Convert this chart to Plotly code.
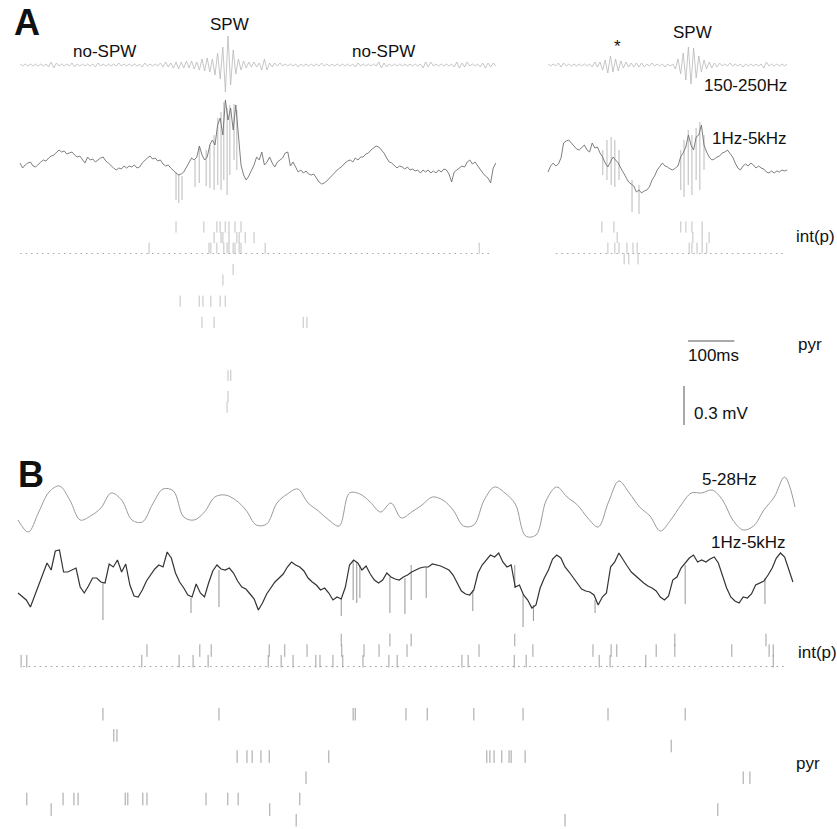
import plotly.graph_objects as go

W, H = 837, 829

# ------------------------------------------------------------------ data
# LFP values are in units of 1/130 mV (0.3 mV scale bar = 39 units)
LFP_UNIT_MV = 0.3 / 39.0

# Panel A: sampling interval of the traces (ms)
DT_A = 5.6

# A left, 150-250 Hz band
RIPPLE_L = [
    1, -1, 1, -1, 1, -1, 1, -1, 1, -1, 1,
    -2, 3, -3, 2,
    -1, 1, -1, 1, -1, 2, -2, 1, -1, 1,
    -1, 1, -1, 1, -2, 2, -1, 1, -1, 1,
    -1, 1, -1, 2, -1, 1, -1, 1, -1, 1,
    -1, 1, -2, 2, -1, 1, -1, 1, -1,
    2, -2, 3, -2, 2,
    -3, 3, -4, 3, -3,
    4, -3, 4, -4, 3,
    -5, 6, -6, 7, -7, 6,
    -10, 12, -14, 18, -27, 29, -20, 15, -9, 6, -5, 4,
    -3, 3, -2, 3, -2, 2,
    -5, 6, -5,
    2, -2, 2, -1, 2,
    -1, 1, -1, 1, -1, 1, -2, 1, -1, 1,
    -1, 1, -1, 1, -1, 2, -1, 1, -1, 1,
    -1, 1, -1, 1, -1, 1, -1, 1, -2, 2,
    -1, 1, -1, 1, -1, 1, -1,
    3, -3, 2, -2,
    1, -1, 1, -1, 1, -1, 1, -1, 1, -1, 1, -1, 1,
    -3, 3, -2, 3,
    -1, 1, -1, 1, -1, 1, -1, 1,
    -2, 3, -3, 2, -2, 3,
    -1, 1, -1, 1,
    -2, 2, -3, 2, -2, 2,
    -1,
]

# A left, 1 Hz-5 kHz
WIDEBAND_L = [
    2, -3, 0, 2, 3, -1, -2, 1, 3, 5,
    4, 7, 9, 10, 13, 15, 13, 14, 11, 12,
    13, 10, 8, 9, 5, 2, 8, 5, 6, 3,
    5, 7, 8, 4, 2, -1, -3, -5, -3, -4,
    -1, -3, -1, -2, 0, -3, -2, 2, 5, 7,
    9, 6, 7, 4, 5, 1, -1, 0, -3, -6,
    -8, -10, -9, -7, -2, 2, 7, 5, 8, 19,
    10, 5, 8, 20, 25, 20, 40, 47, 30, 65,
    45, 57, 35, 60, 25, 0, -10, -15, -11, -5,
    0, 8, 5, 13, 0, 3, 8, 2, -2, 3,
    5, 7, 12, 13, -1, 3, -2, -7, -5, -8,
    -6, -9, -10, -9, -13, -17, -19, -18, -16, -13,
    -11, -7, -5, -3, -1, 2, 4, 5, 3, 7,
    5, 8, 8, 11, 12, 15, 17, 19, 18, 15,
    12, 7, 3, 2, -1, -3, -1, -2, -4, -2,
    -5, -4, -6, -5, -8, -5, -7, -5, -8, -6,
    -8, -5, -7, -4, -5, -9, -17, -7, -5, -3,
    -1, -2, 3, 5, 1, 3, -1, -5, -8, -11,
    -13, -18, -3, 2,
]
# unit spikes riding on the A-left wideband trace: (time ms, top, bottom)
SPIKES_WB_L = [
    (336, -7, -35), (342, -9, -38), (349, -11, -35), (377, 5, -22),
    (386, 19, -18), (401, 15, -21), (409, 20, -23), (418, 30, -25),
    (426, 47, -20), (433, 53, -25), (439, 63, -15), (446, 57, -30),
    (452, 60, -10), (461, 61, 5), (467, 55, -5),
]

# A right, 150-250 Hz band
RIPPLE_R = [
    1, -1, 1, -1,
    2, -2, 2,
    -1, 1, -1, 1, -1, 1, -1, 1, -1, 1,
    -2, 3, -2, 3,
    -5, 5,
    -8, 9, -7,
    6, -6,
    4, -3, 3,
    -2, 2, -2, 2, -2, 2, -2,
    1, -1, 2, -1, 1, -1, 1, -2, 1, -1, 1,
    -4, 6,
    -9, 12,
    -15, 18, -19,
    17, -13,
    9, -7,
    5, -4,
    3, -3, 2, -2, 2,
    -1, 1, -1, 2, -1, 1, -1, 1, -2, 1, -1, 1, -1, 1, -1, 1,
    -3, 3,
    -1, 1, -1, 1, -1, 1, -1, 1,
]

# A right, 1 Hz-5 kHz
WIDEBAND_R = [
    -7, -1, 2, -1, 1, 7, 22, 24, 25, 22,
    19, 16, 15, 18, 20, 15, 13, 22, 17, 18,
    12, 8, 2, -2, 3, 8, 5, 2, -3, -8,
    -13, -17, -19, -21, -27, -25, -28, -26, -25, -22,
    -15, -11, -5, -1, 2, -1, -2, -4, -5, -3,
    -1, 8, 12, 18, 30, 20, 15, 28, 30, 40,
    20, 13, 8, 5, 6, 8, 9, 12, 13, 15,
    12, 8, 2, -3, -5, -1, 1, -1, 2, 0,
    -3, -1, -3, -4, -7, -8, -6, -8, -6, -7,
    -5, -6, -5,
]
SPIKES_WB_R = [
    (118, 15, -10), (127, 25, -15), (136, 28, -20), (144, 25, -22),
    (153, 15, -15), (181, -15, -47), (196, -20, -49), (286, 15, -25),
    (293, 25, -32), (302, 35, -20), (310, 30, -30), (319, 37, -15),
    (327, 43, -25), (336, 30, -5),
]

# Panel B
DT_B_THETA = 20.0
THETA_B = [
    -12, -24, -4, 16, 22, 8, -12, -8, 0, 15,
    8, -12, -14, 4, 19, 17, -9, -12, -4, 11,
    13, 8, -2, -17, -16, 5, 14, 19, 5, -3,
    -12, -18, 15, 14, 6, -4, 5, -10, -4, 3,
    11, 8, -2, -18, -17, 8, 21, 15, 4, -28,
    -27, 8, 21, 11, 3, -10, -19, 6, 27, 15,
    1, -8, -23, -12, 3, 15, 15, 18, 8, -12,
    -22, -18, -2, 11, 31, 1,
]

DT_B_WB = 8.0
WIDEBAND_B = [
    -8, -12, -15, -22, -10, 0, 11, 22, 15, 34,
    35, 13, 13, 15, 17, -2, -8, -1, 7, 7,
    3, 2, 21, 18, 25, 13, 21, 0, -11, -12,
    -5, 4, 10, 16, 20, 18, 33, 27, 12, 3,
    -3, -10, -12, 1, -8, -12, 2, 14, 20, 16,
    15, 17, 12, 4, -2, -4, -9, -14, -25, -18,
    -9, -3, 3, 7, 11, 18, 23, 20, 18, 14,
    7, 3, 0, -5, -3, -8, -15, -12, -14, -2,
    20, 25, 22, 15, 19, 11, 5, 2, 5, 12,
    8, 6, 5, 8, 10, 13, 15, 17, 18, 18,
    21, 20, 19, 17, 15, 10, 2, -6, -9, -10,
    -5, 12, 20, 25, 30, 28, 32, 23, 18, 20,
    -2, 0, -10, -15, -23, -20, -3, 7, 15, 26,
    30, 27, 18, 13, 7, 2, -4, -6, -7, -10,
    -20, -12, -8, 18, 23, 32, 25, 19, 13, 9,
    5, 2, -1, -3, -6, -12, -15, -11, 5, 8,
    17, 22, 27, 30, 23, 25, 23, 26, 28, 22,
    9, -3, -12, -16, -18, -12, -13, -9, 0, 2,
    4, 10, 17, 27, 32, 28, 15, 3,
]
SPIKES_WB_B = [
    (164, 2, -35), (334, -13, -28), (388, 15, -22), (624, -13, -31),
    (647, 25, -15), (654, 23, -18), (660, 20, -13), (718, 8, -28),
    (747, 7, -29), (759, 20, -15), (788, 18, -13), (878, -5, -26),
    (959, 20, -3), (975, -10, -42), (995, -20, -36), (1114, -15, -28),
    (1288, 20, -19), (1442, 7, -19),
]

# Spike rasters: row index -> spike times (ms). Rows above the dotted
# line are interneurons int(p), rows below are pyramidal cells.
SPIKES_A_LEFT = {
    0: [336, 396, 424, 431, 442, 450, 463, 476],
    1: [418, 433, 437, 450, 467, 472, 485, 504],
    2: [278, 407, 411, 424, 439, 446, 450, 459, 463, 472, 476, 528, 989],
    4: [459],
    5: [437],
    7: [345, 386, 394, 411, 431, 442],
    9: [392, 418, 610, 618],
    14: [448, 454],
    16: [448],
    17: [446],
}
SPIKES_A_RIGHT = {
    0: [116, 142, 286, 297, 310, 332],
    1: [149, 312, 332, 347],
    2: [129, 144, 153, 170, 183, 192, 304, 310, 321, 332, 342],
    3: [164, 174, 194],
}
SPIKES_B = {
    0: [624, 718, 759, 959, 1268, 1444],
    1: [249, 351, 373, 485, 515, 558, 625, 668, 697, 751, 890, 994,
        1110, 1145, 1156, 1232, 1268, 1378, 1450, 1458],
    2: [6, 17, 239, 311, 338, 367, 483, 508, 531, 575, 583, 608, 627,
        666, 716, 732, 857, 869, 958, 981, 1122, 1143, 1212, 1458],
    7: [164, 388, 647, 651, 749, 790, 880, 975, 1139, 1288],
    9: [185, 191],
    10: [1261],
    11: [423, 442, 452, 469, 485, 600, 905, 911, 919, 934, 948, 952, 979],
    13: [556, 1400, 1413],
    15: [17, 87, 108, 116, 207, 212, 241, 249, 363, 405, 425, 544],
    16: [64, 486, 1351],
    17: [537, 1056],
}
INT_PYR_BORDER = 2.5          # row position of the dotted separator
DOT_SPAN_A_LEFT = [0, 1017]   # ms
DOT_SPAN_A_RIGHT = [17, 506]
DOT_SPAN_B = [10, 1486]

SCALE_T_MS = 100
SCALE_V_MV = 0.3

# ------------------------------------------------------------------ geometry
PX_PER_MS_A = 0.4643
PX_PER_MS_B = 0.518
PX_PER_MV = 130.0
ROW_PX = 10.6

T0_PX_A_LEFT = 20
T0_PX_A_RIGHT = 548
T0_PX_B = 18
BASE_PX_RIPPLE_A = 65
BASE_PX_WB_A = 165
BASE_PX_THETA_B = 508
BASE_PX_WB_B = 585
ROW0_PX_A = 227
ROW0_PX_B = 640

FONT = "Liberation Sans, Arial, Helvetica, sans-serif"


def xrange_for(t0_px, ppms):
    return [-t0_px / ppms, (W - t0_px) / ppms]


def mv_range_for(base_px):
    return [-(H - base_px) / PX_PER_MV, base_px / PX_PER_MV]


def row_range_for(row0_px):
    return [(H - row0_px) / ROW_PX, -row0_px / ROW_PX]


def px_x(px):
    return px / W


def px_y(py):
    return 1 - py / H


fig = go.Figure()


def add_trace_line(vals, dt, xa, ya, color, width, shape="linear"):
    fig.add_trace(go.Scatter(
        x=[i * dt for i in range(len(vals))],
        y=[v * LFP_UNIT_MV for v in vals],
        xaxis=xa, yaxis=ya, mode="lines",
        line=dict(color=color, width=width, shape=shape),
        hoverinfo="skip", showlegend=False))


def add_unit_spikes(spikes, xa, ya, color, width):
    xs, ys = [], []
    for t, top, bot in spikes:
        xs += [t, t, None]
        ys += [top * LFP_UNIT_MV, bot * LFP_UNIT_MV, None]
    fig.add_trace(go.Scatter(
        x=xs, y=ys, xaxis=xa, yaxis=ya, mode="lines",
        line=dict(color=color, width=width), connectgaps=False,
        hoverinfo="skip", showlegend=False))


def add_raster(spikes, xa, ya, color, size):
    xs, ys = [], []
    for row, times in spikes.items():
        for t in times:
            xs.append(t)
            ys.append(row)
    fig.add_trace(go.Scatter(
        x=xs, y=ys, xaxis=xa, yaxis=ya, mode="markers",
        marker=dict(symbol="line-ns", size=size,
                    line=dict(width=1, color=color)),
        hoverinfo="skip", showlegend=False))


def add_dots(span, xa, ya, color):
    fig.add_trace(go.Scatter(
        x=span, y=[INT_PYR_BORDER, INT_PYR_BORDER], xaxis=xa, yaxis=ya,
        mode="lines", line=dict(color=color, width=1.2, dash="1.5px,4px"),
        hoverinfo="skip", showlegend=False))


# Panel A traces
add_trace_line(RIPPLE_L, DT_A, "x", "y", "#b8b8b8", 0.8)
add_unit_spikes(SPIKES_WB_L, "x", "y2", "#a8a8a8", 0.8)
add_trace_line(WIDEBAND_L, DT_A, "x", "y2", "#707070", 0.9)
add_trace_line(RIPPLE_R, DT_A, "x2", "y", "#b8b8b8", 0.8)
add_unit_spikes(SPIKES_WB_R, "x2", "y2", "#a8a8a8", 0.8)
add_trace_line(WIDEBAND_R, DT_A, "x2", "y2", "#707070", 0.9)
# Panel A rasters
add_raster(SPIKES_A_LEFT, "x", "y3", "#c2c2c2", 8)
add_raster(SPIKES_A_RIGHT, "x2", "y3", "#c2c2c2", 8)
add_dots(DOT_SPAN_A_LEFT, "x", "y3", "#a8a8a8")
add_dots(DOT_SPAN_A_RIGHT, "x2", "y3", "#a8a8a8")
# Panel B
add_trace_line(THETA_B, DT_B_THETA, "x3", "y4", "#9a9a9a", 1.0, "spline")
add_unit_spikes(SPIKES_WB_B, "x3", "y5", "#888888", 0.9)
add_trace_line(WIDEBAND_B, DT_B_WB, "x3", "y5", "#333333", 1.2)
add_raster(SPIKES_B, "x3", "y6", "#a0a0a0", 9)
add_dots(DOT_SPAN_B, "x3", "y6", "#9a9a9a")


def hidden_axis(rng):
    return dict(domain=[0, 1], range=rng, visible=False, fixedrange=True,
                showgrid=False, zeroline=False)


layout = dict(
    width=W, height=H, autosize=False,
    margin=dict(l=0, r=0, t=0, b=0, pad=0),
    paper_bgcolor="white", plot_bgcolor="rgba(0,0,0,0)",
    showlegend=False,
    font=dict(family=FONT, size=17, color="#111111"),
    xaxis=hidden_axis(xrange_for(T0_PX_A_LEFT, PX_PER_MS_A)),
    xaxis2=hidden_axis(xrange_for(T0_PX_A_RIGHT, PX_PER_MS_A)),
    xaxis3=hidden_axis(xrange_for(T0_PX_B, PX_PER_MS_B)),
    yaxis=hidden_axis(mv_range_for(BASE_PX_RIPPLE_A)),
    yaxis2=hidden_axis(mv_range_for(BASE_PX_WB_A)),
    yaxis3=hidden_axis(row_range_for(ROW0_PX_A)),
    yaxis4=hidden_axis(mv_range_for(BASE_PX_THETA_B)),
    yaxis5=hidden_axis(mv_range_for(BASE_PX_WB_B)),
    yaxis6=hidden_axis(row_range_for(ROW0_PX_B)),
)
for k in ["yaxis", "yaxis2", "yaxis3", "yaxis4", "yaxis5", "yaxis6"]:
    layout[k]["anchor"] = "x"
for k in ["xaxis", "xaxis2", "xaxis3"]:
    layout[k]["anchor"] = "y"
fig.update_layout(**layout)

# scale bars (100 ms on the A-right time axis, 0.3 mV on the A LFP axis)
SB_T_START = (688 - T0_PX_A_RIGHT) / PX_PER_MS_A
SB_V_BOTTOM = -2.0
fig.add_shape(type="line", xref="x2", yref="paper",
              x0=SB_T_START, x1=SB_T_START + SCALE_T_MS,
              y0=px_y(341), y1=px_y(341),
              line=dict(color="#555555", width=1))
fig.add_shape(type="line", xref="paper", yref="y2",
              x0=px_x(684), x1=px_x(684),
              y0=SB_V_BOTTOM, y1=SB_V_BOTTOM + SCALE_V_MV,
              line=dict(color="#555555", width=1))

# text labels: (text, x px, y px, xanchor, size, bold)
LABELS = [
    ("A", 12, 23, "left", 36, True),
    ("B", 16, 474, "left", 36, True),
    ("SPW", 229, 24, "center", 17, False),
    ("no-SPW", 104, 51, "center", 17, False),
    ("no-SPW", 383, 51, "center", 17, False),
    ("*", 617, 47, "center", 17, False),
    ("SPW", 692, 33, "center", 17, False),
    ("150-250Hz", 789, 85, "right", 17, False),
    ("1Hz-5kHz", 789, 138, "right", 17, False),
    ("int(p)", 794, 236, "left", 17, False),
    ("pyr", 796, 345, "left", 17, False),
    ("100ms", 713, 355, "center", 17, False),
    ("0.3 mV", 692, 413, "left", 17, False),
    ("5-28Hz", 729, 479, "center", 17, False),
    ("1Hz-5kHz", 748, 542, "center", 17, False),
    ("int(p)", 796, 652, "left", 17, False),
    ("pyr", 794, 763, "left", 17, False),
]
for text, xp, yp, xa, size, bold in LABELS:
    fig.add_annotation(
        text=f"<b>{text}</b>" if bold else text,
        xref="paper", yref="paper", x=px_x(xp), y=px_y(yp),
        xanchor=xa, yanchor="middle", showarrow=False,
        font=dict(family=FONT, size=size, color="#111111"))

fig.write_html("out.html", config={"displayModeBar": False},
               post_script="document.body.style.margin='0';")
